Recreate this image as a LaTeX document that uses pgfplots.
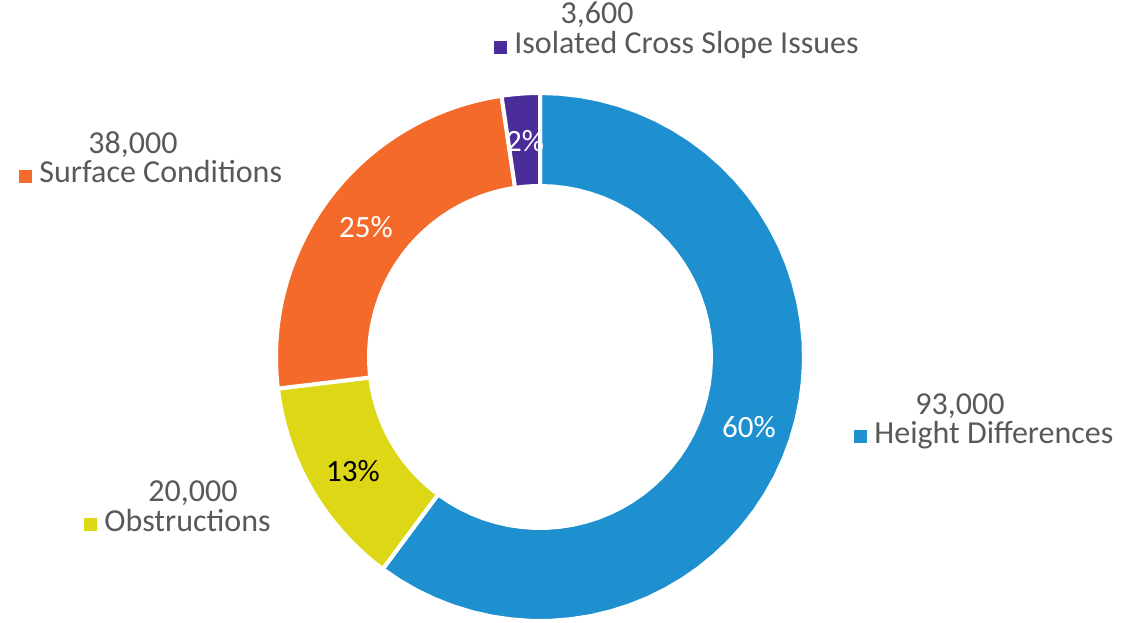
\documentclass[border=0pt]{standalone}
\usepackage{pgfplots}
\usepackage{pgfplotstable}
\usepackage{fontspec}
\setmainfont{Carlito}
\pgfplotsset{compat=1.18}
\definecolor{cBlue}{HTML}{1E90CF}
\definecolor{cYellow}{HTML}{DDD716}
\definecolor{cOrange}{HTML}{F46A2A}
\definecolor{cPurple}{HTML}{4A2D98}
\definecolor{cText}{HTML}{595959}
\tikzset{lab/.style={font=\fontsize{16}{19}\selectfont, inner sep=0pt},
  pct/.style={font=\fontsize{15.5}{18}\selectfont, inner sep=0pt}}
\pgfplotstableread{
name value
Height 93000
Obstructions 20000
Surface 38000
Isolated 3600
}\datatable
\newcommand\slice[3]{%
\addplot[fill=#3, draw=white, line width=2pt, variable=\t,
  samples at={0,1,...,50,100,101,...,150}]
  ({540+((\t<=50)?264:171)*cos(((\t<=50)?(#1+(#2-#1)*\t/50):(#2+(#1-#2)*(\t-100)/50)))},
   {261+((\t<=50)?264:171)*sin(((\t<=50)?(#1+(#2-#1)*\t/50):(#2+(#1-#2)*(\t-100)/50)))}) -- cycle;}
\newcommand\sq[1]{\textcolor{#1}{\rule{6.5pt}{6.5pt}}\hspace{3.5pt}}
\begin{document}
\begin{tikzpicture}
\pgfplotstablegetelem{0}{value}\of\datatable \let\vA\pgfplotsretval
\pgfplotstablegetelem{1}{value}\of\datatable \let\vB\pgfplotsretval
\pgfplotstablegetelem{2}{value}\of\datatable \let\vC\pgfplotsretval
\pgfplotstablegetelem{3}{value}\of\datatable \let\vD\pgfplotsretval
\edef\vT{\fpeval{\vA+\vB+\vC+\vD}}
\edef\angA{\fpeval{90-360*\vA/\vT}}
\edef\angB{\fpeval{\angA-360*\vB/\vT}}
\edef\angC{\fpeval{\angB-360*\vC/\vT}}
\begin{axis}[
  scale only axis, width=563.5pt, height=309pt,
  xmin=0, xmax=1127, ymin=0, ymax=618,
  hide axis, clip=false,
]
\draw[draw=none] (axis cs:0,0) rectangle (axis cs:1127,618);
\slice{90}{\angA}{cBlue}
\slice{\angA}{\angB}{cYellow}
\slice{\angB}{\angC}{cOrange}
\slice{\angC}{-270}{cPurple}
% percentage labels
\node[pct, text=white] at (axis cs:749,191) {60\%};
\node[pct, text=black] at (axis cs:353,147) {13\%};
\node[pct, text=white] at (axis cs:366,391) {25\%};
\node[pct, text=white] at (axis cs:525,477) {2\%};
% category labels
\node[lab, anchor=base, text=cText] at (axis cs:597,594) {3,600};
\node[lab, anchor=base west, text=cText] at (axis cs:494,564) {\sq{cPurple}Isolated Cross Slope Issues};
\node[lab, anchor=base, text=cText] at (axis cs:133,464) {38,000};
\node[lab, anchor=base west, text=cText] at (axis cs:19,435) {\sq{cOrange}Surface Conditions};
\node[lab, anchor=base, text=cText] at (axis cs:960,204) {93,000};
\node[lab, anchor=base west, text=cText] at (axis cs:854,175) {\sq{cBlue}Height Differences};
\node[lab, anchor=base, text=cText] at (axis cs:193,117) {20,000};
\node[lab, anchor=base west, text=cText] at (axis cs:84,87) {\sq{cYellow}Obstructions};
\end{axis}
\end{tikzpicture}
\end{document}
